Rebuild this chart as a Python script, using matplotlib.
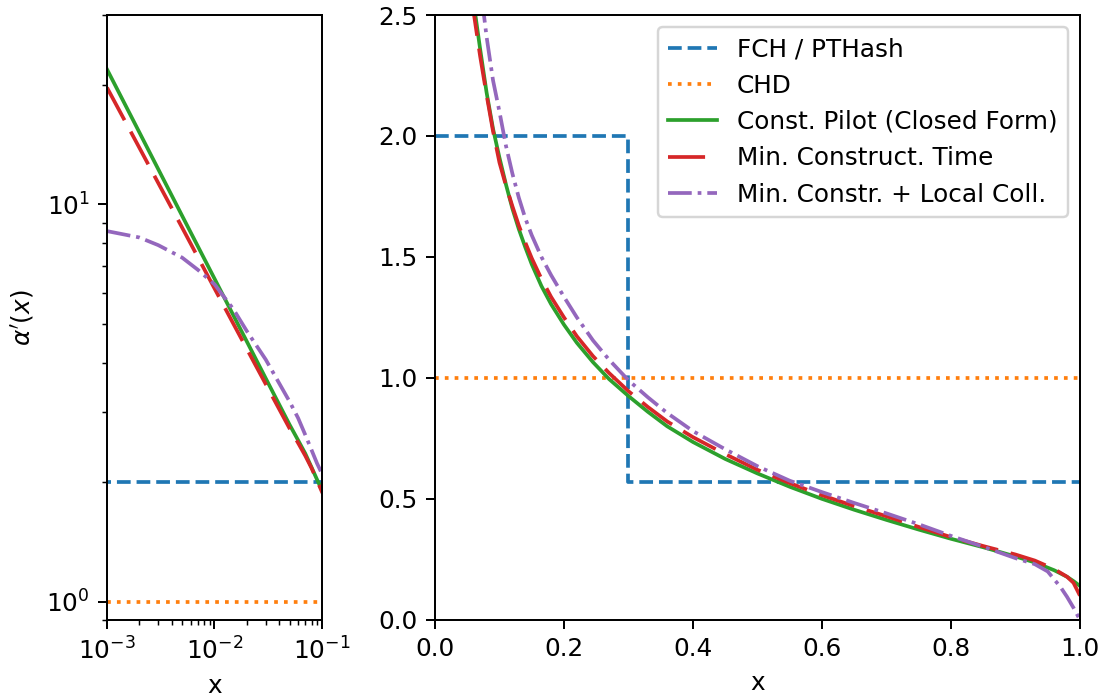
import matplotlib
matplotlib.use("Agg")
import matplotlib.pyplot as plt

# series
fch_x = [0.0, 0.3, 0.3, 1.0]
fch_y = [2.0, 2.0, 0.5714, 0.5714]

chd_x = [0.0, 1.0]
chd_y = [1.0, 1.0]

pilot_x = [0.001, 0.002, 0.005, 0.01, 0.02, 0.03, 0.05, 0.06, 0.07, 0.08,
           0.09, 0.1, 0.11, 0.12, 0.13, 0.14, 0.15, 0.165, 0.18, 0.2,
           0.22, 0.245, 0.27, 0.3, 0.33, 0.36, 0.4, 0.45, 0.5, 0.55,
           0.6, 0.65, 0.7, 0.75, 0.8, 0.85, 0.9, 0.93, 0.96, 0.98, 0.99, 1.0]
pilot_y = [21.9, 15.2, 9.37, 6.51, 4.52, 3.65, 2.79, 2.55, 2.36, 2.18,
           2.03, 1.91, 1.80, 1.70, 1.615, 1.54, 1.47, 1.38, 1.305, 1.22,
           1.145, 1.065, 0.995, 0.925, 0.86, 0.80, 0.735, 0.665, 0.605, 0.55,
           0.50, 0.455, 0.413, 0.373, 0.335, 0.30, 0.262, 0.237, 0.205, 0.178, 0.16, 0.14]

mintime_x = [0.001, 0.002, 0.005, 0.01, 0.02, 0.03, 0.05, 0.06, 0.07, 0.08,
             0.09, 0.1, 0.11, 0.12, 0.13, 0.14, 0.15, 0.165, 0.18, 0.2,
             0.22, 0.245, 0.27, 0.3, 0.33, 0.36, 0.4, 0.45, 0.5, 0.55,
             0.6, 0.65, 0.7, 0.75, 0.8, 0.85, 0.9, 0.93, 0.96, 0.98, 0.99, 1.0]
mintime_y = [19.7, 13.9, 8.75, 6.15, 4.33, 3.53, 2.73, 2.51, 2.33, 2.17,
             2.02, 1.89, 1.795, 1.71, 1.63, 1.56, 1.495, 1.41, 1.335, 1.25,
             1.172, 1.09, 1.02, 0.945, 0.88, 0.82, 0.755, 0.685, 0.62, 0.565,
             0.515, 0.47, 0.428, 0.384, 0.342, 0.305, 0.27, 0.245, 0.21, 0.178, 0.153, 0.10]

local_x = [0.001, 0.002, 0.003, 0.005, 0.007, 0.01, 0.015, 0.02, 0.03, 0.05,
           0.06, 0.07, 0.08, 0.09, 0.1, 0.11, 0.12, 0.13, 0.14, 0.15,
           0.165, 0.18, 0.2, 0.22, 0.245, 0.27, 0.3, 0.33, 0.36, 0.4,
           0.45, 0.5, 0.55, 0.6, 0.65, 0.7, 0.75, 0.8, 0.85, 0.9,
           0.93, 0.95, 0.97, 0.98, 0.99, 1.0]
local_y = [8.57, 8.26, 7.9, 7.35, 6.85, 6.3, 5.45, 4.8, 4.07, 3.19,
           2.9, 2.63, 2.41, 2.23, 2.1, 1.96, 1.845, 1.745, 1.66, 1.59,
           1.50, 1.425, 1.335, 1.25, 1.155, 1.075, 0.99, 0.92, 0.855, 0.78,
           0.705, 0.635, 0.575, 0.528, 0.483, 0.44, 0.395, 0.347, 0.302, 0.255,
           0.23, 0.20, 0.135, 0.095, 0.05, 0.0]

labels = ["FCH / PTHash", "CHD", "Const. Pilot (Closed Form)",
          "Min. Construct. Time", "Min. Constr. + Local Coll."]

DPI = 178
fig = plt.figure(figsize=(1104 / DPI, 698 / DPI), dpi=DPI)
ax1 = fig.add_axes([0.0969, 0.112, 0.1947, 0.8665])
ax2 = fig.add_axes([0.394, 0.112, 0.5842, 0.8665])


def draw(ax):
    ax.plot(fch_x, fch_y, color="C0", linestyle="--", lw=1.5, label=labels[0])
    ax.plot(chd_x, chd_y, color="C1", linestyle=":", lw=1.5, label=labels[1])
    ax.plot(pilot_x, pilot_y, color="C2", linestyle="-", lw=1.5, label=labels[2])
    ax.plot(mintime_x, mintime_y, color="C3", linestyle=(0, (10, 3.5)), lw=1.5, label=labels[3])
    ax.plot(local_x, local_y, color="C4", linestyle="-.", lw=1.5, label=labels[4])


draw(ax1)
ax1.set_xscale("log")
ax1.set_yscale("log")
ax1.set_xlim(1e-3, 1e-1)
ax1.set_ylim(0.9, 30)
ax1.set_xlabel("x")
ax1.set_ylabel(r"$\alpha'(x)$")

draw(ax2)
ax2.set_xlim(0, 1)
ax2.set_ylim(0, 2.5)
ax2.set_xlabel("x")
ax2.legend(loc="upper right")

fig.savefig("out.png", dpi=DPI)
